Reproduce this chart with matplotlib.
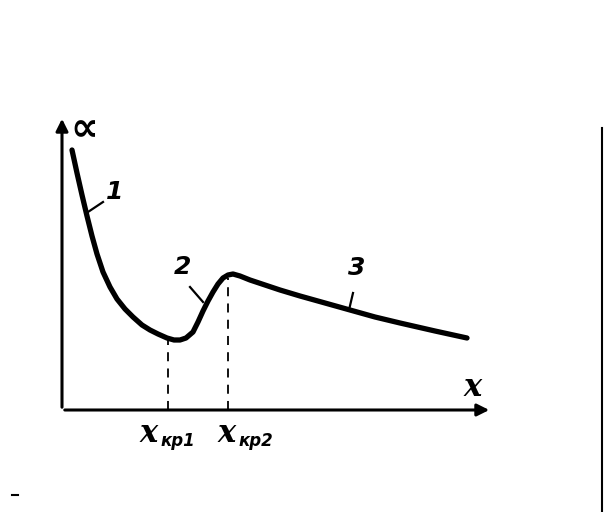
#!/usr/bin/env python3
'''Heat transfer coefficient alpha vs x: laminar (1), transition (2), turbulent (3).'''

import matplotlib
matplotlib.use('Agg')
import matplotlib.pyplot as plt

# curve, in plot units (origin at axis corner)
curve_x = [10, 15, 20, 25, 30, 35, 41, 48, 55, 63, 71, 80, 88, 96, 105, 112,
           118, 124, 131, 136, 141, 146, 151, 156, 161, 166, 171, 178, 188,
           200, 218, 238, 263, 288, 313, 338, 373, 405]
curve_y = [260, 237, 215, 194, 174, 156, 138, 123, 111, 101, 93, 85, 80, 76,
           72, 70, 70, 72, 78, 88, 99, 109, 118, 126, 132, 135, 136, 134, 130,
           126, 120, 114, 107, 100, 93, 87, 79, 72]

x_kr = [106, 166]
x_kr_top = [70, 132]
x_kr_labels = ['кр1', 'кр2']
x_kr_label_left = [78, 156]

region_labels = ['1', '2', '3']
region_label_pos = [(53, 218), (120, 143), (295, 142)]
leader_lines = [((26, 198), (41, 208)), ((128, 123), (141, 108)), ((291, 117), (287, 100))]


def main():
    fig = plt.figure(figsize=(6.04, 5.12), dpi=100)
    ax = fig.add_axes([0, 0, 1, 1])
    ax.set_xlim(-62, 542)
    ax.set_ylim(-102, 410)
    ax.axis('off')

    # axes with arrows
    ax.annotate('', xy=(0, 294), xytext=(0, 0),
                arrowprops=dict(arrowstyle='-|>', lw=2.2, color='k', mutation_scale=18))
    ax.annotate('', xy=(430, 0), xytext=(0, 0),
                arrowprops=dict(arrowstyle='-|>', lw=2.2, color='k', mutation_scale=18))

    ax.plot(curve_x, curve_y, color='k', lw=3.8, solid_capstyle='round',
            solid_joinstyle='round')

    for xk, yt in zip(x_kr, x_kr_top):
        ax.plot([xk, xk], [0, yt], color='k', lw=1.3, ls=(0, (5, 4)))

    for xl, lab in zip(x_kr_label_left, x_kr_labels):
        ax.text(xl, -23, 'x', fontsize=22, family='DejaVu Serif',
                style='italic', weight='bold', ha='left', va='center')
        ax.text(xl + 20, -31, lab, fontsize=12, family='DejaVu Sans',
                style='italic', weight='bold', ha='left', va='center')

    for lab, (tx, ty) in zip(region_labels, region_label_pos):
        ax.text(tx, ty, lab, fontsize=18, family='DejaVu Sans', style='italic',
                weight='bold', ha='center', va='center')
    for (p0, p1) in leader_lines:
        ax.plot([p0[0], p1[0]], [p0[1], p1[1]], color='k', lw=1.6)

    ax.text(22, 281, '∝', fontsize=28, family='DejaVu Sans', weight='bold',
            ha='center', va='center')
    ax.text(411, 23, 'x', fontsize=22, family='DejaVu Serif', style='italic',
            weight='bold', ha='center', va='center')

    # scan artefacts: frame edge at right, dash at bottom left
    ax.plot([540, 540], [282, -102], color='k', lw=1.5)
    ax.plot([-50, -44], [-85, -85], color='k', lw=1.5)

    fig.savefig('out.png', dpi=100)


if __name__ == '__main__':
    main()
